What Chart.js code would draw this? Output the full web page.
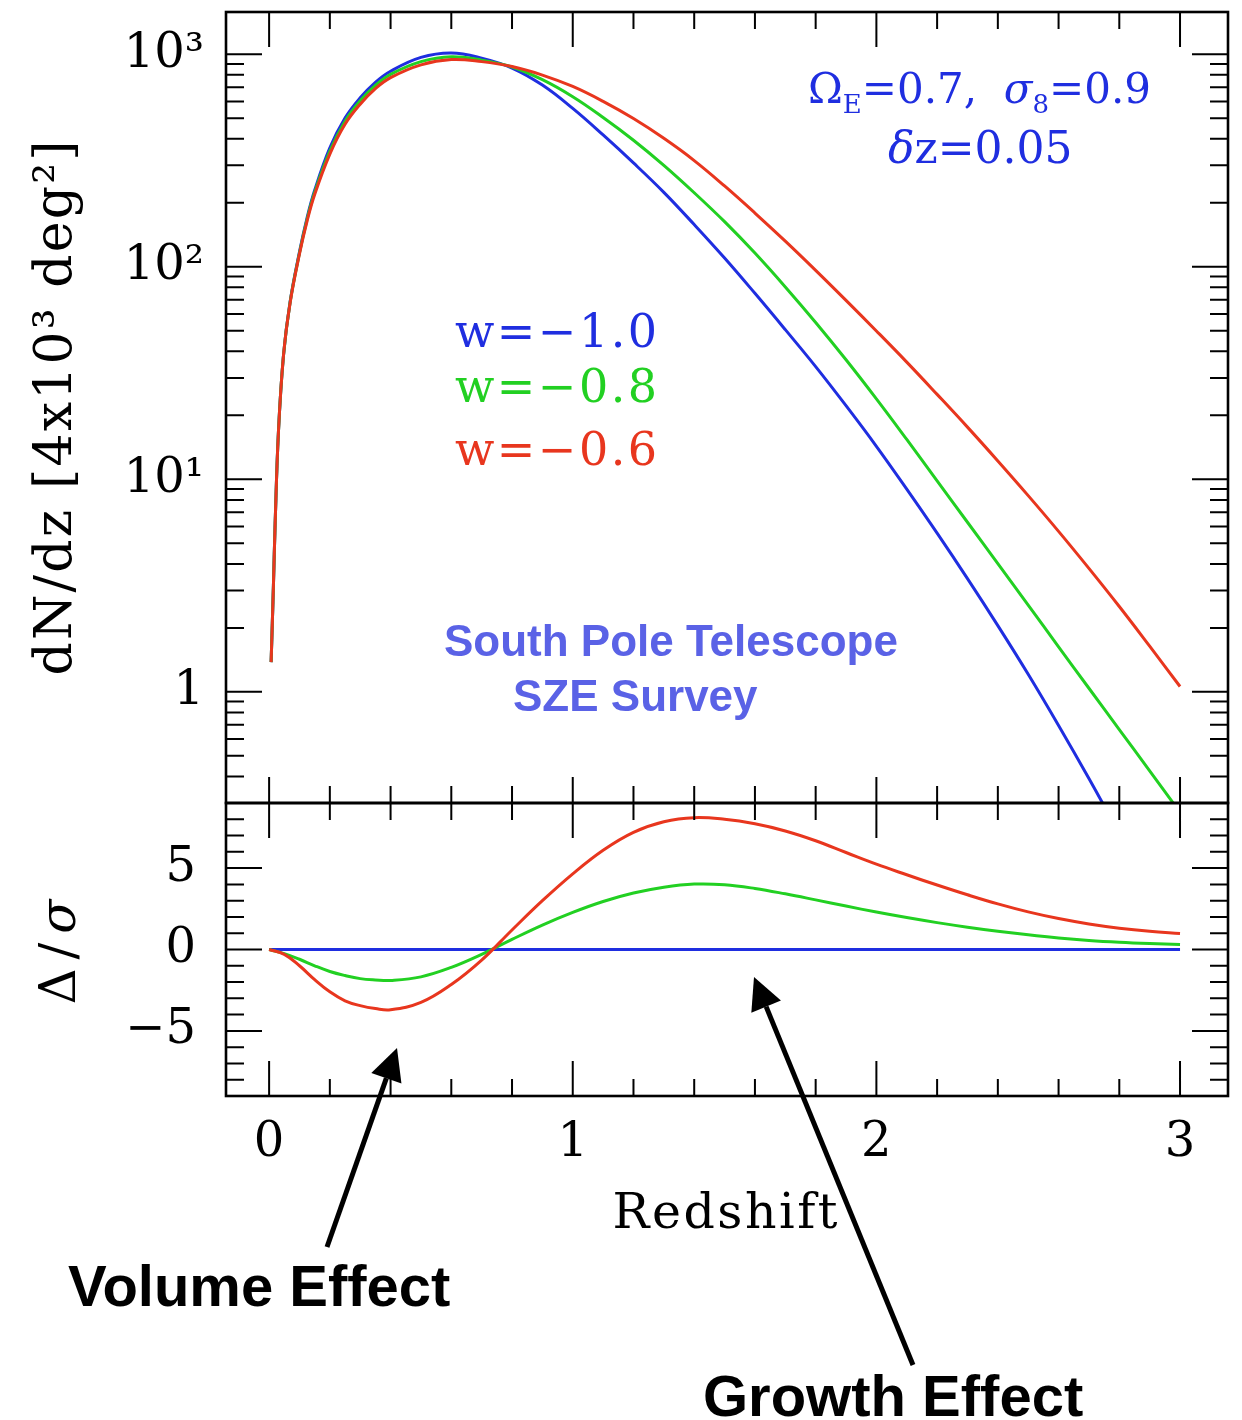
<!DOCTYPE html>
<html>
<head>
<meta charset="utf-8">
<script src="https://cdn.jsdelivr.net/npm/chart.js@4.4.1/dist/chart.umd.min.js"></script>
<style>
  html, body { margin: 0; padding: 0; background: #fff; }
  #wrap { position: relative; width: 1242px; height: 1420px; }
  canvas { position: absolute; left: 0; top: 0; }
</style>
</head>
<body>
<div id="wrap">
  <canvas id="topPanel" width="1242" height="1420"></canvas>
  <canvas id="bottomPanel" width="1242" height="1420"></canvas>
</div>
<script>
// redshift grid of the upper panel (dN/dz)
const zTop = [0.0066, 0.0142, 0.0198, 0.0306, 0.0471, 0.0691, 0.1, 0.125, 0.15,
  0.2, 0.25, 0.3, 0.35, 0.4, 0.5, 0.6, 0.7, 0.8, 0.9, 1.0, 1.1, 1.2, 1.3, 1.4, 1.5,
  1.6, 1.7, 1.8, 1.9, 2.0, 2.1, 2.2, 2.3, 2.4, 2.5, 2.6, 2.7, 2.8, 2.9, 3.0];

const dndzW10 = [1.38, 3.16, 6.17, 16.6, 38.0, 68.4, 117.5, 170, 229,
  363, 501, 624, 738, 832, 966, 1014, 959, 861, 716, 556, 417, 308, 224, 158, 110,
  75.0, 50.6, 33.9, 22.2, 14.3, 8.99, 5.58, 3.41, 2.05, 1.21, 0.695, 0.391, 0.215, 0.115, 0.060];
const dndzW08 = [1.38, 3.16, 6.17, 16.6, 38.0, 68, 116, 167, 224,
  350, 484, 604, 713, 804, 923, 973, 938, 871, 759, 631, 504, 394, 300, 223, 163,
  116, 80.4, 54.7, 36.5, 23.9, 15.4, 9.84, 6.28, 4.01, 2.56, 1.63, 1.04, 0.665, 0.425, 0.271];
const dndzW06 = [1.38, 3.16, 6.17, 16.6, 38.0, 67.6, 115, 164, 219,
  339, 468, 582, 689, 776, 891, 944, 923, 875, 798, 705, 600, 498, 402, 316, 240,
  179, 132, 96.2, 69.5, 49.9, 35.6, 25.1, 17.6, 12.2, 8.38, 5.69, 3.81, 2.52, 1.64, 1.06];

// redshift grid of the lower panel (Delta/sigma)
const zBottom = [0, 0.05, 0.1, 0.15, 0.2, 0.25, 0.3, 0.35, 0.4, 0.5, 0.6, 0.7, 0.8, 0.9, 1.0, 1.1, 1.2,
  1.3, 1.4, 1.5, 1.6, 1.7, 1.8, 1.9, 2.0, 2.1, 2.2, 2.3, 2.4, 2.5, 2.6, 2.7, 2.8, 2.9, 3.0];
const sigW10 = [0, 0, 0, 0, 0, 0, 0, 0, 0, 0, 0, 0, 0, 0, 0, 0, 0,
  0, 0, 0, 0, 0, 0, 0, 0, 0, 0, 0, 0, 0, 0, 0, 0, 0, 0];
const sigW08 = [0, -0.25, -0.6, -1.0, -1.35, -1.6, -1.79, -1.87, -1.9, -1.68, -1.1, -0.3, 0.62, 1.5, 2.28, 2.95, 3.47,
  3.83, 4.02, 3.98, 3.75, 3.42, 3.05, 2.67, 2.30, 1.96, 1.65, 1.37, 1.12, 0.90, 0.71, 0.56, 0.45, 0.37, 0.31];
const sigW06 = [0, -0.3, -1.0, -1.85, -2.6, -3.15, -3.45, -3.63, -3.7, -3.25, -2.15, -0.65, 1.2, 3.0, 4.65, 6.1, 7.2,
  7.85, 8.1, 8.0, 7.72, 7.28, 6.68, 5.96, 5.24, 4.59, 3.96, 3.36, 2.80, 2.31, 1.90, 1.57, 1.31, 1.12, 0.99];

// tick labels
const xTickValues = [0, 1, 2, 3];
const xTickLabels = ['0', '1', '2', '3'];
const topTickValues = [1, 10, 100, 1000];
const topTickLabels = ['1', '10¹', '10²', '10³'];
const bottomTickValues = [-5, 0, 5];
const bottomTickLabels = ['−5', '0', '5'];

const BLUE = '#1f2ee0';
const GREEN = '#22d022';
const RED = '#e8361e';
const SPT = '#5a62e6';

const serif = (size, style) => (style || '') + ' ' + size + 'px "DejaVu Serif"';
const sans = size => 'bold ' + size + 'px "Liberation Sans", Arial, sans-serif';
const tickFont = { family: 'DejaVu Serif', size: 48 };

const pts = (xs, ys) => xs.map((x, i) => ({ x: x, y: ys[i] }));

function fixedAxis(size) {
  return function (s) {
    if (s.isHorizontal()) s.height = size; else s.width = size;
    s.paddingLeft = s.paddingRight = s.paddingTop = s.paddingBottom = 0;
  };
}

// frame + inward ticks on all four sides, placed through the scales
const frameTicks = {
  id: 'frameTicks',
  afterDatasetsDraw(chart, args, o) {
    const { ctx, chartArea: a } = chart;
    const x = chart.scales.x, y = chart.scales.y;
    ctx.save();
    ctx.strokeStyle = '#000';
    ctx.lineWidth = 2;
    ctx.beginPath();
    for (let i = 0; i <= 15; i++) {
      const px = x.getPixelForValue(i / 5);
      const major = i % 5 === 0;
      ctx.moveTo(px, a.top); ctx.lineTo(px, a.top + (major ? o.xMajorTop : 17));
      ctx.moveTo(px, a.bottom); ctx.lineTo(px, a.bottom - (major ? o.xMajorBottom : 17));
    }
    o.yTicks.forEach(t => {
      const py = y.getPixelForValue(t.v);
      const len = t.major ? 36 : 18;
      ctx.moveTo(a.left, py); ctx.lineTo(a.left + len, py);
      ctx.moveTo(a.right, py); ctx.lineTo(a.right - len, py);
    });
    ctx.stroke();
    ctx.lineWidth = 2.6;
    ctx.strokeRect(a.left, a.top, a.right - a.left, a.bottom - a.top);
    ctx.restore();
  }
};

function drawItem(ctx, it) {
  ctx.save();
  ctx.fillStyle = it.color || '#000';
  ctx.textBaseline = it.baseline || 'alphabetic';
  ctx.textAlign = 'left';
  ctx.translate(it.x, it.y);
  if (it.rotate) ctx.rotate(it.rotate);
  let w0 = 0, n = 0;
  it.runs.forEach(r => {
    ctx.font = r.font;
    ctx.letterSpacing = '0px';
    w0 += ctx.measureText(r.t).width;
    n += Array.from(r.t).length;
  });
  const sp = it.width ? Math.max(0, (it.width - w0) / Math.max(1, n - 1)) : 0;
  let cx = it.align === 'center' ? -(w0 + sp * (n - 1)) / 2 : 0;
  it.runs.forEach(r => {
    ctx.font = r.font;
    ctx.letterSpacing = '0px';
    const w = ctx.measureText(r.t).width;
    ctx.letterSpacing = sp + 'px';
    ctx.fillText(r.t, cx, r.dy || 0);
    cx += w + sp * Array.from(r.t).length;
  });
  ctx.restore();
}

function drawArrow(ctx, a) {
  const [x0, y0] = a.from, [x1, y1] = a.to;
  const ang = Math.atan2(y1 - y0, x1 - x0);
  const hl = 32, hw = 16;
  const bx = x1 - hl * Math.cos(ang), by = y1 - hl * Math.sin(ang);
  ctx.save();
  ctx.strokeStyle = '#000';
  ctx.fillStyle = '#000';
  ctx.lineWidth = 5;
  ctx.beginPath();
  ctx.moveTo(x0, y0);
  ctx.lineTo(bx, by);
  ctx.stroke();
  ctx.beginPath();
  ctx.moveTo(x1, y1);
  ctx.lineTo(bx + hw * Math.sin(ang), by - hw * Math.cos(ang));
  ctx.lineTo(bx - hw * Math.sin(ang), by + hw * Math.cos(ang));
  ctx.closePath();
  ctx.fill();
  ctx.restore();
}

const notes = {
  id: 'notes',
  afterDraw(chart, args, o) {
    (o.items || []).forEach(it => drawItem(chart.ctx, it));
    (o.arrows || []).forEach(a => drawArrow(chart.ctx, a));
  }
};

function logMinorTicks() {
  const list = [];
  [0.1, 1, 10, 100, 1000].forEach(d => {
    for (let m = 1; m <= 9; m++) {
      const v = m * d;
      if (v >= 0.32 && v <= 1580) list.push({ v: v, major: m === 1 });
    }
  });
  return list;
}

function linMinorTicks() {
  const list = [];
  for (let v = -8; v <= 8; v++) list.push({ v: v, major: v % 5 === 0 });
  return list;
}

const lineStyle = { borderWidth: 3, pointRadius: 0, fill: false, tension: 0.4 };

new Chart(document.getElementById('topPanel'), {
  type: 'line',
  data: {
    datasets: [
      Object.assign({ label: 'w=-1.0', data: pts(zTop, dndzW10), borderColor: BLUE, order: 3 }, lineStyle),
      Object.assign({ label: 'w=-0.8', data: pts(zTop, dndzW08), borderColor: GREEN, order: 2 }, lineStyle),
      Object.assign({ label: 'w=-0.6', data: pts(zTop, dndzW06), borderColor: RED, order: 1 }, lineStyle)
    ]
  },
  options: {
    responsive: false,
    devicePixelRatio: 1,
    animation: false,
    events: [],
    layout: { padding: { left: 0, top: 12, right: 14, bottom: 617 } },
    scales: {
      x: { type: 'linear', min: -0.142, max: 3.158, display: false },
      y: {
        type: 'logarithmic', min: 0.319, max: 1580,
        afterFit: fixedAxis(226),
        afterBuildTicks: s => { s.ticks = topTickValues.map(v => ({ value: v })); },
        grid: { display: false, drawTicks: false },
        border: { display: false },
        ticks: {
          autoSkip: false, padding: 22, color: '#000', font: tickFont,
          callback: (v, i) => topTickLabels[i]
        }
      }
    },
    plugins: {
      legend: { display: false },
      tooltip: { enabled: false },
      frameTicks: { xMajorTop: 35, xMajorBottom: 26, yTicks: logMinorTicks() },
      notes: {
        items: [
          { runs: [{ t: 'dN/dz [4x10³ deg²]', font: serif(52) }], x: 57, y: 408,
            rotate: -Math.PI / 2, align: 'center', baseline: 'middle', width: 535 },
          { runs: [
              { t: 'Ω', font: serif(42) }, { t: 'E', font: serif(26), dy: 10 },
              { t: '=0.7,  ', font: serif(42) }, { t: 'σ', font: serif(42, 'italic') },
              { t: '8', font: serif(26), dy: 10 }, { t: '=0.9', font: serif(42) }],
            x: 808, y: 103, width: 337, color: BLUE },
          { runs: [{ t: 'δ', font: serif(44, 'italic') }, { t: 'z=0.05', font: serif(44) }],
            x: 888, y: 163, width: 180, color: BLUE },
          { runs: [{ t: 'w=−1.0', font: serif(46) }], x: 455, y: 347, width: 202, color: BLUE },
          { runs: [{ t: 'w=−0.8', font: serif(46) }], x: 455, y: 402, width: 202, color: GREEN },
          { runs: [{ t: 'w=−0.6', font: serif(46) }], x: 455, y: 465, width: 202, color: RED },
          { runs: [{ t: 'South Pole Telescope', font: sans(44) }], x: 444, y: 656, color: SPT },
          { runs: [{ t: 'SZE Survey', font: sans(44) }], x: 513, y: 711, color: SPT }
        ]
      }
    }
  },
  plugins: [frameTicks, notes]
});

new Chart(document.getElementById('bottomPanel'), {
  type: 'line',
  data: {
    datasets: [
      Object.assign({ label: 'w=-1.0', data: pts(zBottom, sigW10), borderColor: BLUE, order: 3 }, lineStyle),
      Object.assign({ label: 'w=-0.8', data: pts(zBottom, sigW08), borderColor: GREEN, order: 2 }, lineStyle),
      Object.assign({ label: 'w=-0.6', data: pts(zBottom, sigW06), borderColor: RED, order: 1 }, lineStyle)
    ]
  },
  options: {
    responsive: false,
    devicePixelRatio: 1,
    animation: false,
    events: [],
    layout: { padding: { left: 0, top: 803, right: 14, bottom: 244 } },
    scales: {
      x: {
        type: 'linear', min: -0.142, max: 3.158,
        afterFit: fixedAxis(80),
        afterBuildTicks: s => { s.ticks = xTickValues.map(v => ({ value: v })); },
        grid: { display: false, drawTicks: false },
        border: { display: false },
        ticks: {
          autoSkip: false, maxRotation: 0, padding: 19, color: '#000', font: tickFont,
          callback: (v, i) => xTickLabels[i]
        }
      },
      y: {
        type: 'linear', min: -9, max: 9,
        afterFit: fixedAxis(226),
        afterBuildTicks: s => { s.ticks = bottomTickValues.map(v => ({ value: v })); },
        grid: { display: false, drawTicks: false },
        border: { display: false },
        ticks: {
          autoSkip: false, padding: 30, color: '#000', font: tickFont,
          callback: (v, i) => bottomTickLabels[i]
        }
      }
    },
    plugins: {
      legend: { display: false },
      tooltip: { enabled: false },
      frameTicks: { xMajorTop: 35, xMajorBottom: 35, yTicks: linMinorTicks() },
      notes: {
        items: [
          { runs: [{ t: 'Δ/', font: serif(50) }, { t: 'σ', font: serif(50, 'italic') }], x: 62, y: 952,
            rotate: -Math.PI / 2, align: 'center', baseline: 'middle', width: 105 },
          { runs: [{ t: 'Redshift', font: serif(49) }], x: 725, y: 1228, align: 'center', width: 225 },
          { runs: [{ t: 'Volume Effect', font: sans(58) }], x: 68, y: 1306 },
          { runs: [{ t: 'Growth Effect', font: sans(58) }], x: 703, y: 1416 }
        ],
        arrows: [
          { from: [327, 1247], to: [397, 1048] },
          { from: [913, 1365], to: [754, 977] }
        ]
      }
    }
  },
  plugins: [frameTicks, notes]
});
</script>
</body>
</html>
